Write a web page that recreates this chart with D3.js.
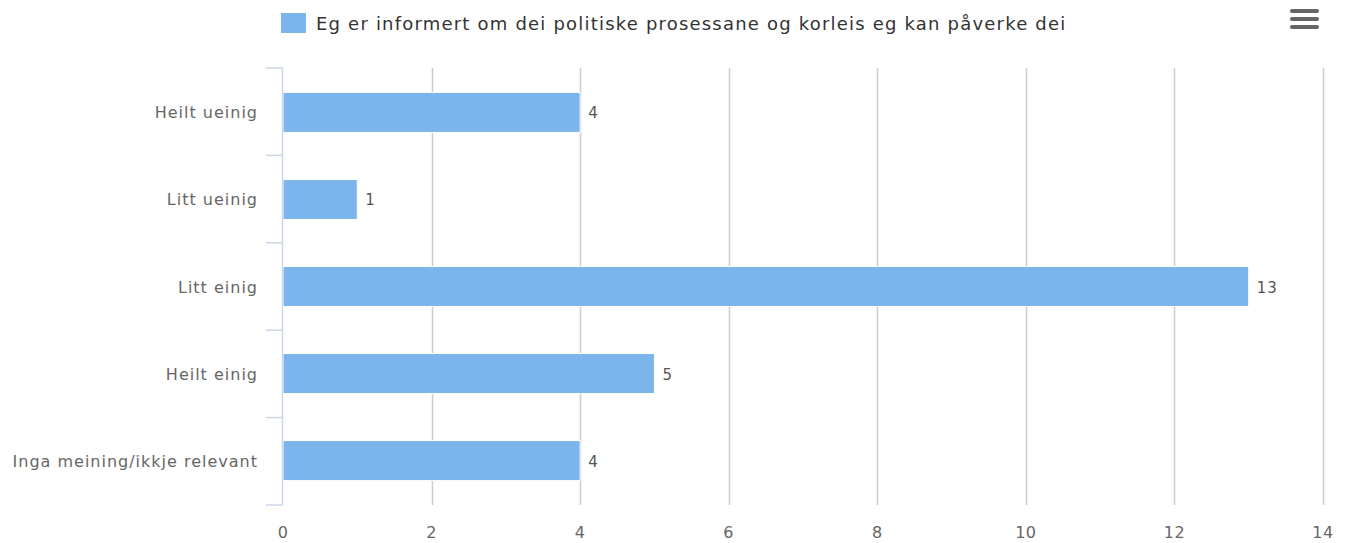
<!DOCTYPE html>
<html>
<head>
<meta charset="utf-8">
<script src="https://cdn.jsdelivr.net/npm/d3@7"></script>
<style>
  body { margin: 0; background: #fff; }
  svg text { font-family: 'DejaVu Sans', Verdana, sans-serif; }
</style>
</head>
<body>
<div id="chart"></div>
<script>
const width = 1353;
const height = 543;

// data
const categories = ["Heilt ueinig", "Litt ueinig", "Litt einig", "Heilt einig", "Inga meining/ikkje relevant"];
const values = [4, 1, 13, 5, 4];
const seriesName = "Eg er informert om dei politiske prosessane og korleis eg kan påverke dei";
const xTicks = [0, 2, 4, 6, 8, 10, 12, 14];

const margin = { top: 68, right: 30, bottom: 38, left: 283 };
const barColor = "#7cb5ec";

const svg = d3.select("#chart").append("svg")
  .attr("width", width)
  .attr("height", height);

const x = d3.scaleLinear().domain([0, 14]).range([margin.left, width - margin.right]);
const y = d3.scaleBand().domain(categories).range([margin.top, height - margin.bottom]).paddingInner(0.54).paddingOuter(0.28);
const band = d3.scaleBand().domain(categories).range([margin.top, height - margin.bottom]);

// gridlines
svg.append("g")
  .selectAll("line")
  .data(xTicks.slice(1))
  .enter().append("line")
  .attr("x1", d => Math.round(x(d)) + 0.5)
  .attr("x2", d => Math.round(x(d)) + 0.5)
  .attr("y1", margin.top)
  .attr("y2", height - margin.bottom)
  .attr("stroke", "#cccccc")
  .attr("stroke-width", 1.5);

// x labels
svg.append("g")
  .selectAll("text")
  .data(xTicks)
  .enter().append("text")
  .attr("x", d => x(d))
  .attr("y", 538)
  .attr("text-anchor", "middle")
  .attr("fill", "#666")
  .style("font-size", "16px")
  .style("letter-spacing", "0.5px")
  .text(d => d);

// bars
svg.append("g")
  .selectAll("rect")
  .data(values)
  .enter().append("rect")
  .attr("x", x(0))
  .attr("y", (d, i) => y(categories[i]))
  .attr("width", d => x(d) - x(0))
  .attr("height", y.bandwidth())
  .attr("fill", barColor)
  .attr("stroke", "#fff")
  .attr("stroke-width", 1);

// value labels
svg.append("g")
  .selectAll("text")
  .data(values)
  .enter().append("text")
  .attr("x", d => x(d) + 8)
  .attr("y", (d, i) => y(categories[i]) + y.bandwidth() / 2 + 6)
  .attr("fill", "#555")
  .style("font-size", "15px")
  .style("letter-spacing", "1px")
  .text(d => d);

// y axis line + ticks
const axisG = svg.append("g").attr("stroke", "#ccd6eb").attr("stroke-width", 1.5);
axisG.append("line")
  .attr("x1", margin.left - 0.5).attr("x2", margin.left - 0.5)
  .attr("y1", margin.top).attr("y2", height - margin.bottom);
axisG.selectAll("line.tick")
  .data(categories.concat(["end"]))
  .enter().append("line")
  .attr("class", "tick")
  .attr("x1", margin.left - 17).attr("x2", margin.left)
  .attr("y1", (d, i) => i < categories.length ? band(d) : height - margin.bottom)
  .attr("y2", (d, i) => i < categories.length ? band(d) : height - margin.bottom);

// category labels
svg.append("g")
  .selectAll("text")
  .data(categories)
  .enter().append("text")
  .attr("x", 258)
  .attr("y", d => band(d) + band.bandwidth() / 2 + 6)
  .attr("text-anchor", "end")
  .attr("fill", "#666")
  .style("font-size", "16px")
  .style("letter-spacing", "1px")
  .text(d => d);

// legend
const legend = svg.append("g");
legend.append("rect")
  .attr("x", 281).attr("y", 13)
  .attr("width", 25).attr("height", 20)
  .attr("fill", barColor);
legend.append("text")
  .attr("x", 316).attr("y", 30)
  .attr("fill", "#333")
  .style("font-size", "18px")
  .style("letter-spacing", "1.2px")
  .text(seriesName);

// menu icon
svg.append("g")
  .selectAll("line")
  .data([11, 19, 27])
  .enter().append("line")
  .attr("x1", 1292).attr("x2", 1317)
  .attr("y1", d => d).attr("y2", d => d)
  .attr("stroke", "#666")
  .attr("stroke-width", 4)
  .attr("stroke-linecap", "round");
</script>
</body>
</html>
